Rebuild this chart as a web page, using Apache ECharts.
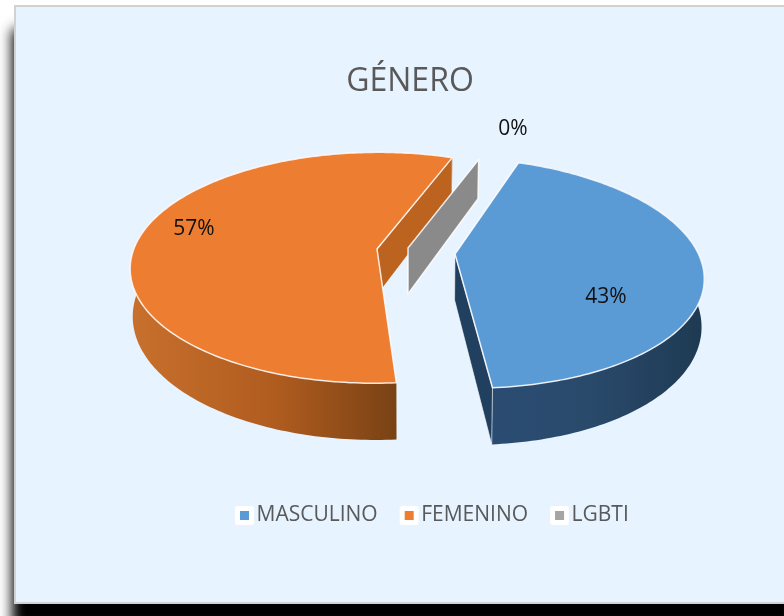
<!DOCTYPE html>
<html lang="es">
<head>
    <meta charset="UTF-8">
    <title>GÉNERO</title>
    <script src="https://cdn.jsdelivr.net/npm/echarts@6/dist/echarts.min.js"></script>
    <style>
        html, body {
            margin: 0;
            padding: 0;
            width: 784px;
            height: 616px;
            overflow: hidden;
            background: #fff;
        }
        .panel {
            position: absolute;
            left: 14px;
            top: 5px;
            width: 780px;
            height: 595px;
            background: #e7f3ff;
            border: 2px solid #d2d2d2;
            box-shadow: -2px 24px 12px #000;
        }
        #chart {
            position: absolute;
            left: 0;
            top: 0;
            width: 784px;
            height: 616px;
        }
    </style>
</head>
<body>
    <div class="panel"></div>
    <div id="chart"></div>
    <script>
        var categories = ['MASCULINO', 'FEMENINO', 'LGBTI'];
        var values = [43, 57, 0];
        var titleText = 'GÉNERO';

        // colores de cada porción
        var topColors = ['#5b9bd5', '#ed7d31', '#a5a5a5'];
        var faceColors = ['#213f5e', '#bd6320', '#8a8a8a'];
        var wallStops = [
            [[0, '#2b4c72'], [0.45, '#2a4a6c'], [1, '#1e3a52']],
            [[0, '#c8702d'], [0.45, '#b05c1f'], [0.84, '#774114'], [1, '#774114']],
            [[0, '#8a8a8a'], [1, '#8a8a8a']]
        ];

        // proyección del pastel 3D
        var cx = 408, cy = 248;
        var radius = 242, squash = 0.46, persp = 0.00078, depth = 46, converge = 0.0002, skew = 0.016;
        var firstAngle = 21;
        var explode = [47, -31, 0];          // solo en X
        var shiftY = [3, -2, 0];
        var apexShiftY = [3, 3, 0];
        var labelOffsets = [[151, 43], [-183, -20], [105, -119]];

        var total = values.reduce(function (a, b) { return a + b; }, 0);

        function project(i, x, z, h) {
            var p = 1 / (1 + persp * z);
            return [
                cx + (x - skew * z) * p * (1 - h * converge),
                cy + shiftY[i] - squash * z * p + h * p
            ];
        }

        function apexPoint(i, h) {
            var pt = project(i, explode[i], 0, h);
            return [pt[0], pt[1] + apexShiftY[i]];
        }

        function sliceRange(i) {
            var before = 0;
            for (var k = 0; k < i; k++) before += values[k];
            var start = firstAngle + before / total * 360;
            return [start, start + values[i] / total * 360];
        }

        function arcPoints(i, h) {
            var r = sliceRange(i), pts = [];
            var n = Math.max(1, Math.ceil(r[1] - r[0]));
            for (var k = 0; k <= n; k++) {
                var a = (r[0] + (r[1] - r[0]) * k / n) * Math.PI / 180;
                pts.push(project(i, explode[i] + radius * Math.sin(a), radius * Math.cos(a), h));
            }
            return pts;
        }

        function radialFace(i, angle) {
            var a = angle * Math.PI / 180;
            var x = explode[i] + radius * Math.sin(a), z = radius * Math.cos(a);
            return [apexPoint(i, 0), project(i, x, z, 0), project(i, x, z, depth), apexPoint(i, depth)];
        }

        function renderSlice(params, api) {
            var i = params.seriesIndex;
            var value = api.value(0);
            var r = sliceRange(i);
            var apex = apexPoint(i, 0);
            var edge = { stroke: 'rgba(255,255,255,0.85)', lineWidth: 1.5, lineJoin: 'round' };
            var children = [];

            if (value > 0) {
                var topArc = arcPoints(i, 0);
                var lowArc = arcPoints(i, depth).reverse();
                children.push({
                    type: 'polygon',
                    shape: { points: topArc.concat(lowArc) },
                    style: {
                        fill: new echarts.graphic.LinearGradient(0, 0, 1, 0, wallStops[i].map(function (s) {
                            return { offset: s[0], color: s[1] };
                        }))
                    }
                });
                // caras radiales: solo las que miran al frente
                [[r[0], r[0] - 90], [r[1], r[1] + 90]].forEach(function (f) {
                    if (Math.cos(f[1] * Math.PI / 180) < 0) {
                        children.push({
                            type: 'polygon',
                            shape: { points: radialFace(i, f[0]) },
                            style: { fill: faceColors[i], stroke: 'rgba(255,255,255,0.6)', lineWidth: 1 }
                        });
                    }
                });
                children.push({
                    type: 'polygon',
                    shape: { points: [apex].concat(topArc) },
                    style: { fill: topColors[i], stroke: edge.stroke, lineWidth: edge.lineWidth, lineJoin: edge.lineJoin }
                });
            } else {
                children.push({
                    type: 'polygon',
                    shape: { points: radialFace(i, r[0]) },
                    style: { fill: faceColors[i], stroke: edge.stroke, lineWidth: edge.lineWidth, lineJoin: edge.lineJoin }
                });
            }

            children.push({
                type: 'text',
                style: {
                    x: apex[0] + labelOffsets[i][0],
                    y: apex[1] + labelOffsets[i][1],
                    text: Math.round(value / total * 100) + '%',
                    fill: '#111',
                    font: '21px "Open Sans"',
                    align: 'center',
                    verticalAlign: 'middle'
                }
            });
            return { type: 'group', children: children };
        }

        var chart = echarts.init(document.getElementById('chart'));
        chart.setOption({
            animation: false,
            backgroundColor: 'transparent',
            title: {
                text: titleText,
                left: 405,
                top: 61,
                textAlign: 'center',
                textStyle: { color: '#595959', fontFamily: 'Open Sans', fontSize: 32, fontWeight: 'normal' }
            },
            legend: {
                left: 230,
                top: 500,
                icon: 'rect',
                itemWidth: 14,
                itemHeight: 14,
                itemGap: 22,
                itemStyle: { borderColor: '#fff', borderWidth: 5, borderJoin: 'round' },
                textStyle: { color: '#595959', fontFamily: 'Open Sans', fontSize: 21 },
                data: categories
            },
            series: categories.map(function (name, i) {
                return {
                    type: 'custom',
                    name: name,
                    coordinateSystem: 'none',
                    itemStyle: { color: topColors[i] },
                    renderItem: renderSlice,
                    data: [[values[i]]]
                };
            })
        });
    </script>
</body>
</html>
